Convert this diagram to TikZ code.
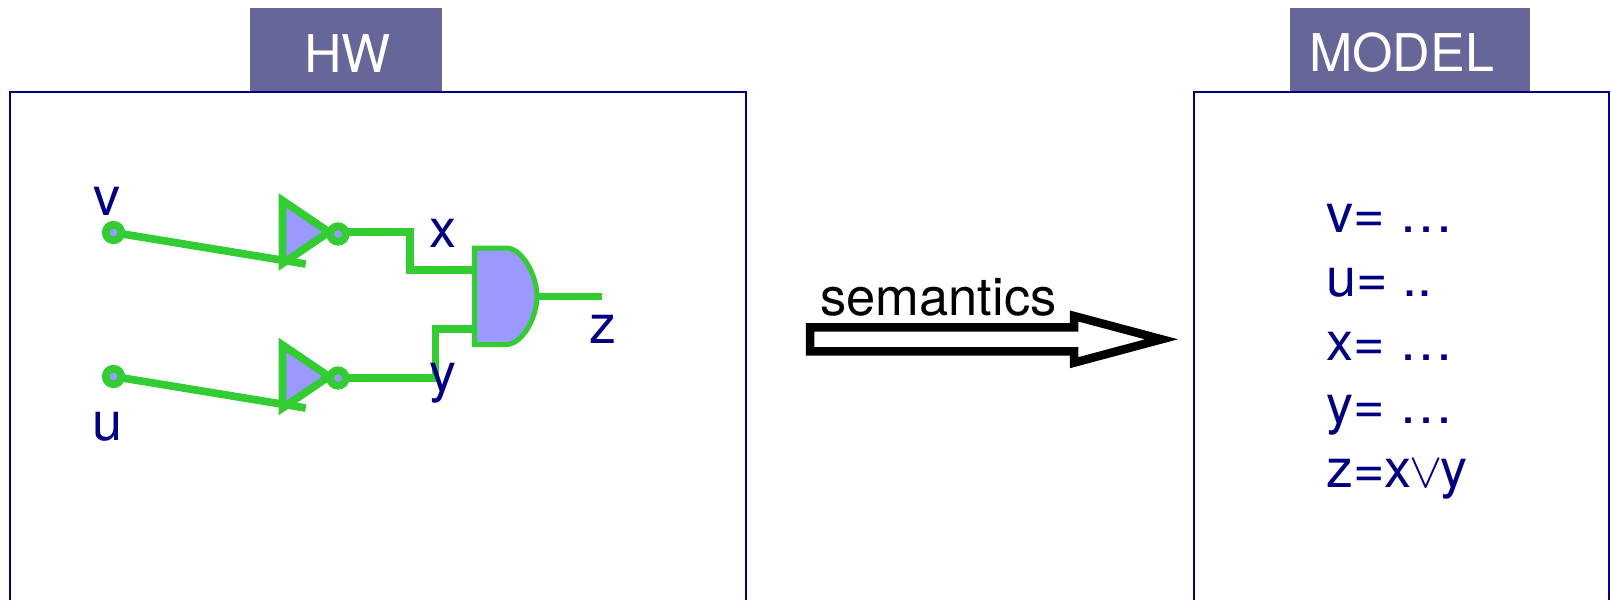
\documentclass[tikz,border=0pt]{standalone}
\usepackage{fontspec}
\setmainfont{TeX Gyre Heros}
\definecolor{hwnavy}{HTML}{000080}
\definecolor{tabblue}{HTML}{666699}
\definecolor{wiregreen}{HTML}{33CC33}
\definecolor{gateblue}{HTML}{9999FF}
\tikzset{
  panel/.style={draw=hwnavy, line width=2.5pt},
  tabbox/.style={fill=tabblue, draw=none},
  tabtext/.style={anchor=base west, inner sep=0pt, text=white, font=\fontsize{52}{52}\selectfont},
  sig/.style={anchor=base, inner sep=0pt, text=hwnavy, font=\fontsize{54}{54}\selectfont},
  eqn/.style={anchor=base west, inner sep=0pt, text=hwnavy, font=\fontsize{54}{54}\selectfont},
  wire/.style={draw=wiregreen, line width=7.7pt},
  pin/.style={circle, draw=wiregreen, fill=gateblue, line width=7.7pt, minimum size=15.5pt, inner sep=0pt, outer sep=0pt},
  invgate/.style={draw=wiregreen, fill=gateblue, line width=7.7pt},
  andgate/.style={draw=wiregreen, fill=gateblue, line width=5pt},
}
\begin{document}
\begin{tikzpicture}[x=1pt, y=-1pt]
\useasboundingbox (0,0) rectangle (1610,600);
% tabs and panels
\fill[tabbox] (250,8) rectangle (442,91);
\fill[tabbox] (1290,8) rectangle (1530,91);
\draw[panel] (10,600) -- (10,92) -- (746,92) -- (746,600);
\draw[panel] (1194,600) -- (1194,92) -- (1609,92) -- (1609,600);
\node[tabtext] (hw) at (304,72) {HW};
\node[tabtext] (model) at (1309,71) {MODEL};
% inverters
\draw[invgate] (282.5,200.5) -- (329,232) -- (282.5,263.5) -- cycle;
\draw[invgate] (282.5,345) -- (329,376.5) -- (282.5,408) -- cycle;
% and gate
\draw[andgate] (474.5,248) -- (507,248) .. controls (523,249) and (537,276) .. (537,296.5)
  .. controls (537,317) and (523,343.5) .. (507,344.5) -- (474.5,344.5) -- cycle;
% pins
\node[pin] (vpin) at (113.5,232.5) {};
\node[pin] (upin) at (113.5,376.5) {};
\node[pin] (xpin) at (338,234) {};
\node[pin] (ypin) at (338,378) {};
\coordinate (vend) at (305.7,264);
\coordinate (uend) at (305.7,408);
\coordinate (xout) at (344,232.3);
\coordinate (yout) at (344,378);
\coordinate (xin) at (476,270);
\coordinate (yin) at (476,329);
\coordinate (zout) at (601.7,296.5);
\coordinate (zin) at (537,296.5);
% wires
\draw[wire] (vpin) -- (vend);
\draw[wire] (upin) -- (uend);
\draw[wire] (xout) -| (410,270) -- (xin);
\draw[wire] (yout) -| (435.5,329) -- (yin);
\draw[wire] (zin) -- (zout);
% signal names
\node[sig] (vlabel) at (107,215) {v};
\node[sig] (ulabel) at (108,440) {u};
\node[sig] (xlabel) at (442.5,247) {x};
\node[sig] (ylabel) at (443,391) {y};
\node[sig] (zlabel) at (603,343) {z};
% semantics arrow
\draw[black, line width=8.5pt, fill=white] (810,327.3) -- (1074,327.3) -- (1074,316) -- (1161.5,339.3)
  -- (1074,362.7) -- (1074,351.3) -- (810,351.3) -- cycle;
\node[anchor=base west, inner sep=0pt, font=\fontsize{52.5}{52.5}\selectfont] (semantics) at (820,315) {semantics};
% equations
\node[eqn] (veq) at (1326,232) {v= …};
\node[eqn] (ueq) at (1326,296) {u= ..};
\node[eqn] (xeq) at (1326,360) {x= …};
\node[eqn] (yeq) at (1326,423) {y= …};
\node[eqn] (zeq) at (1326,487.5) {z=x\kern-2pt\scalebox{2}{$\vee$}\kern-2pt y};
\end{tikzpicture}
\end{document}
